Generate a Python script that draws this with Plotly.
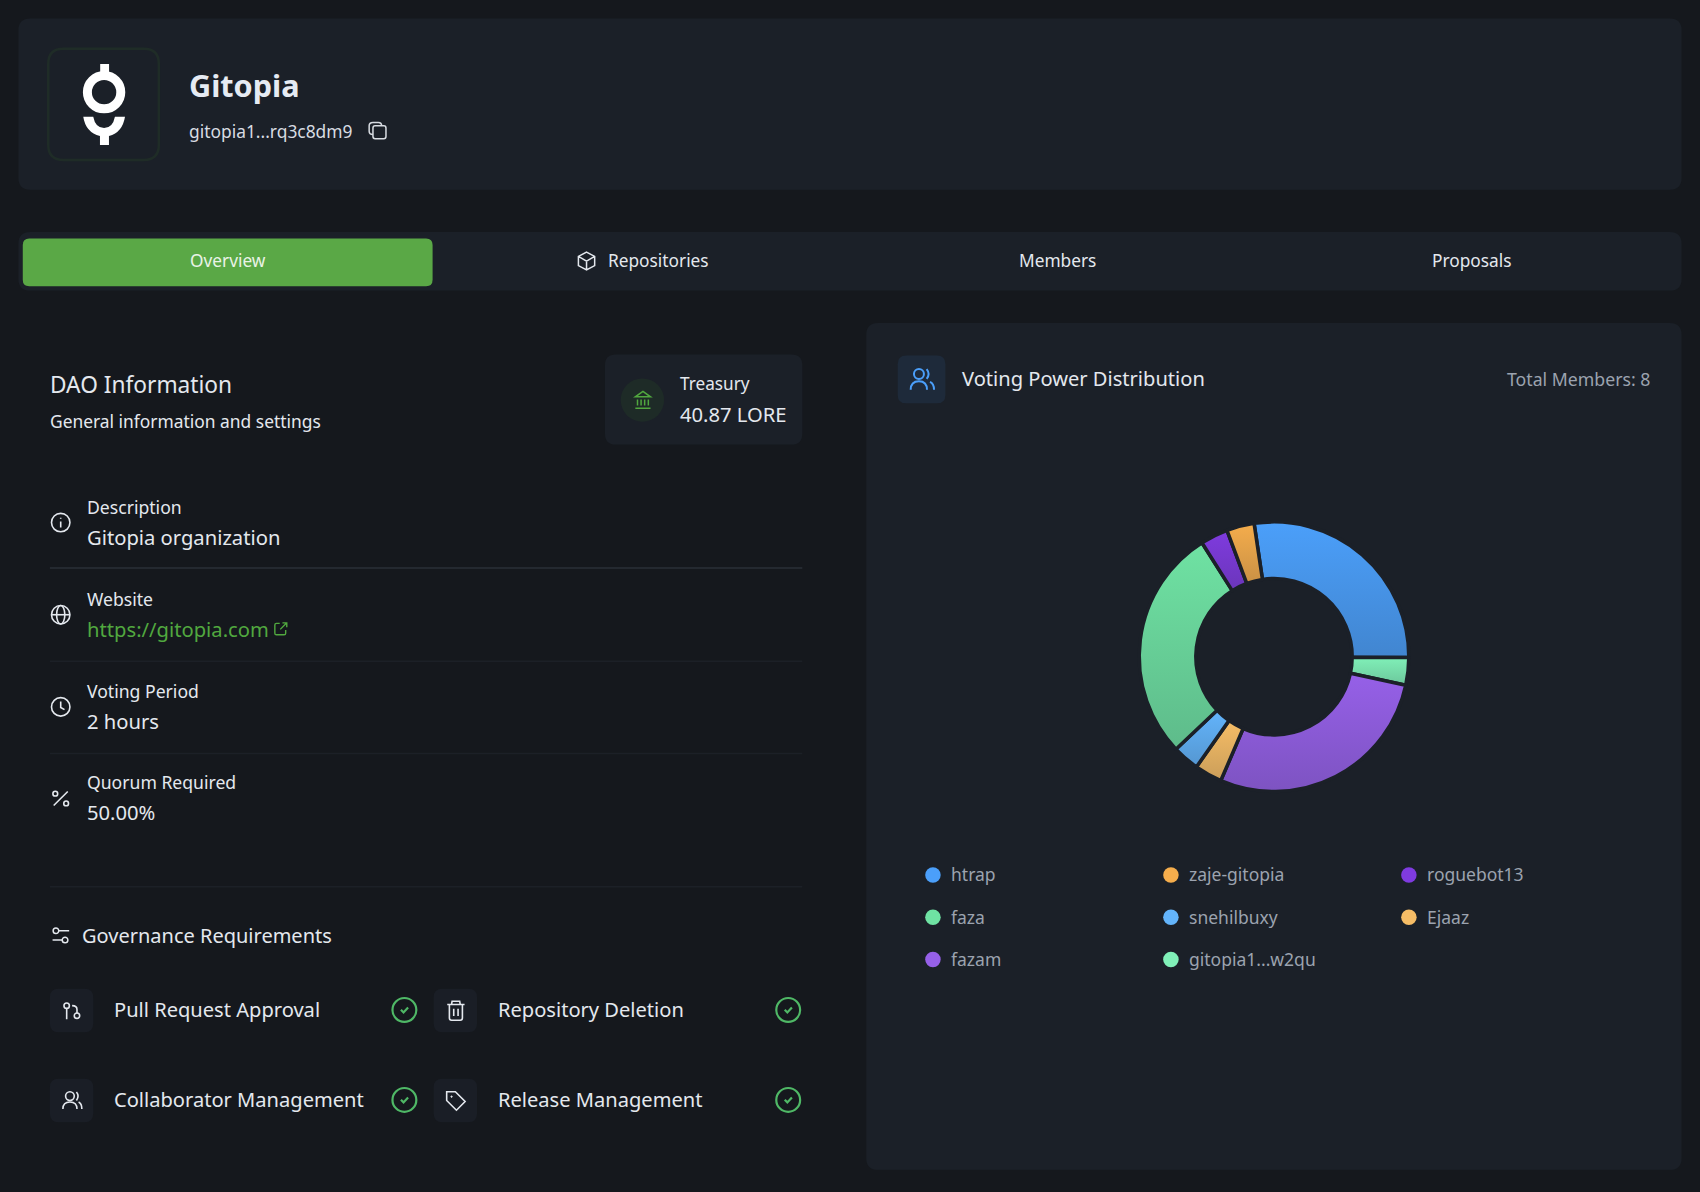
import plotly.graph_objects as go

# ---- chart data ----
voters = ["htrap", "gitopia1...w2qu", "fazam", "Ejaaz", "snehilbuxy", "faza", "roguebot13", "zaje-gitopia"]
voting_power = [27.4, 3.3, 28.0, 3.3, 3.2, 28.0, 3.3, 3.3]
voter_colors = ["#4b9ffa", "#80f0b8", "#9660e8", "#f6bd66", "#63b4fb", "#6fe2a3", "#7f3bdf", "#f5ad4c"]
legend_order = ["htrap", "faza", "fazam", "zaje-gitopia", "snehilbuxy", "gitopia1...w2qu", "roguebot13", "Ejaaz"]
tabs = ["Overview", "Repositories", "Members", "Proposals"]
info_labels = ["Description", "Website", "Voting Period", "Quorum Required"]
info_values = ["Gitopia organization", "https://gitopia.com", "2 hours", "50.00%"]
requirements = ["Pull Request Approval", "Repository Deletion", "Collaborator Management", "Release Management"]

W, H = 1700, 1192
S = W / 1568
VH = H / S
FONT = "Noto Sans"
BG, CARD = "#15181d", "#1b2028"
TXT, MUTED, GREEN = "#e4e8ee", "#9ca3af", "#51a83f"
shapes, notes = [], []


def note(x, y, t, size=18, color=TXT, anchor="left", bold=False):
    dx = {"left": -2, "right": 2, "center": 0}[anchor]
    notes.append(dict(x=x, y=y - 0.6, xshift=dx, text=f"<b>{t}</b>" if bold else t, showarrow=False, xanchor=anchor,
                      yanchor="middle", font=dict(family=FONT, size=size, color=color), xref="x", yref="y"))


def rrect(x0, y0, x1, y1, r, fill=None, line=None, w=0):
    p = (f"M{x0+r},{y0} L{x1-r},{y0} Q{x1},{y0} {x1},{y0+r} L{x1},{y1-r} Q{x1},{y1} {x1-r},{y1} "
         f"L{x0+r},{y1} Q{x0},{y1} {x0},{y1-r} L{x0},{y0+r} Q{x0},{y0} {x0+r},{y0} Z")
    shapes.append(dict(type="path", path=p, xref="x", yref="y", layer="below", fillcolor=fill or "rgba(0,0,0,0)",
                       line=dict(color=line or "rgba(0,0,0,0)", width=w)))


def circ(cx, cy, r, fill=None, line=None, w=1.6, ry=None):
    ry = r if ry is None else ry
    shapes.append(dict(type="circle", x0=cx-r, x1=cx+r, y0=cy-ry, y1=cy+ry, xref="x", yref="y", layer="below",
                       fillcolor=fill or "rgba(0,0,0,0)", line=dict(color=line or "rgba(0,0,0,0)", width=w)))


def path(p, line=TXT, w=1.6, fill=None):
    shapes.append(dict(type="path", path=p, xref="x", yref="y", layer="below", fillcolor=fill or "rgba(0,0,0,0)",
                       line=dict(color=line or "rgba(0,0,0,0)", width=w)))


def seg(x0, y0, x1, y1, color, w=1.0):
    shapes.append(dict(type="line", x0=x0, y0=y0, x1=x1, y1=y1, xref="x", yref="y", layer="below",
                       line=dict(color=color, width=w)))


# ---- cards ----
rrect(17, 17, 1551, 175, 11, CARD)
rrect(17, 214, 1551, 268, 11, CARD)
rrect(21, 220, 399, 264, 6, "#5aa846")
rrect(799, 298, 1551, 1079, 11, CARD)
rrect(558, 327, 740, 410, 10, CARD)

# ---- header ----
rrect(44.5, 45, 146.5, 147.5, 14, "#1b2028", "#1f2c27", 2.5)
circ(96, 85, 15.4, None, "#ffffff", 9)
path("M92.4,59 L100.6,59 L100.6,68 L92.4,68 Z", None, 0, "#ffffff")
path("M76.8,107.6 L86,107.6 Q88,118 96,118 Q104,118 106,107.6 L115.3,107.6 Q113,122 100.5,125.5 L100.5,133.7 "
     "L92.2,133.7 L92.2,125.5 Q79,122 76.8,107.6 Z", None, 0, "#ffffff")
note(174, 79, "Gitopia", 30.6, "#e6ebf3", bold=True)
note(174, 121, "gitopia1...rq3c8dm9", 17.4, "#d8dce2")
rrect(344, 116, 356, 128, 2, None, "#d8dce2", 1.5)
path("M344,124 Q340.5,124 340.5,121 L340.5,116 Q340.5,113 344,113 L349,113 Q352,113 352,116", "#d8dce2", 1.5)

# ---- tabs ----
note(210, 241, tabs[0], 17.3, "#e9f3e6", "center")
note(607, 241, tabs[1], 17.3, TXT, "center")
note(975, 241, tabs[2], 17.3, TXT, "center")
note(1357.5, 241, tabs[3], 17.3, TXT, "center")
path("M541,232.5 L548.5,236.5 L548.5,245 L541,249 L533.5,245 L533.5,236.5 Z M533.5,236.5 L541,240.8 L548.5,236.5 M541,240.8 L541,249",
     TXT, 1.5)

# ---- DAO information ----
note(46, 355, "DAO Information", 22.7)
note(46, 388.5, "General information and settings", 17.4)
circ(592.5, 369, 20, "#1e2b27")
path("M593,361 L600,366 L586,366 Z M586,376.5 L600,376.5 M588,368.5 L588,374 M591.3,368.5 L591.3,374 M594.6,368.5 L594.6,374 "
     "M598,368.5 L598,374", GREEN, 1.5)
note(627, 354.5, "Treasury", 17.2)
note(627, 382, "40.87 LORE", 20.2)

row_y = [482, 567, 652, 736]
for lab, val, y, c in zip(info_labels, info_values, row_y, [TXT, GREEN, TXT, TXT]):
    note(80, y - 14, lab, 17.6)
    note(80, y + 14, val, 20.2, c)
seg(46, 524, 740, 524, "#2a2f37", 1.5)
seg(46, 610, 740, 610, "#1c2027", 1.5)
seg(46, 695, 740, 695, "#1c2027", 1.5)
seg(46, 818, 740, 818, "#1c2027", 1.5)
# info
circ(56, 482, 8.5, None, TXT)
path("M56,481 L56,486.5 M56,477.5 L56,478.5", TXT, 1.6)
# globe
circ(56, 567, 8.5, None, TXT)
circ(56, 567, 3.8, None, TXT, ry=8.5)
seg(47.5, 567, 64.5, 567, TXT, 1.6)
# external link
path("M258,575 L255,575 Q253.5,575 253.5,576.5 L253.5,584 Q253.5,585.5 255,585.5 L262,585.5 Q263.5,585.5 263.5,584 L263.5,581 "
     "M258.5,580.5 L264.5,574.5 M260.5,574.5 L264.5,574.5 L264.5,578.5", GREEN, 1.4)
# clock
circ(56, 652, 8.5, None, TXT)
path("M56,647 L56,652.5 L59.5,654.5", TXT, 1.6)
# percent
seg(49.5, 743, 62.5, 730, TXT, 1.6)
circ(51, 732, 2.2, None, TXT)
circ(61, 741, 2.2, None, TXT)

# ---- governance ----
path("M54.3,858.5 L63.8,858.5 M48.5,867 L57.3,867", TXT, 1.5)
circ(51.6, 858.5, 2.6, None, TXT, 1.5)
circ(60, 867, 2.6, None, TXT, 1.5)
note(76, 863.5, "Governance Requirements", 20)

grid = [(46, 932), (400, 932), (46, 1015), (400, 1015)]
for name, (x, y) in zip(requirements, grid):
    rrect(x, y - 20, x + 40, y + 20, 8, "#1a1e26")
    note(x + 59, y, name, 20.1)
    cx = x + 327
    circ(cx, y - 0.5, 11, None, "#4fb866", 2.2)
    path(f"M{cx-3.2},{y-0.6} L{cx-0.8},{y+1.8} L{cx+3.4},{y-2.8}", "#4fb866", 2.2)
# pull request
circ(61.5, 927.6, 2.5, None, TXT)
circ(71, 936.8, 2.5, None, TXT)
path("M61.5,930 L61.5,940 M71,934.3 L71,931 Q71,927.5 66.5,927.5", TXT, 1.6)
# trash
path("M412.5,926.5 L428.5,926.5 M416.5,926.5 L417,923.5 L424,923.5 L424.5,926.5 M414.5,926.5 L414.5,939 Q414.5,941 416.5,941 "
     "L424.5,941 Q426.5,941 426.5,939 L426.5,926.5 M418.5,930.5 L418.5,937 M422.5,930.5 L422.5,937", TXT, 1.6)
# users
circ(64.5, 1011, 4, None, TXT, 1.6)
path("M58,1023 Q58,1016.5 64.5,1016.5 Q71,1016.5 71,1023 M70.5,1007.3 Q73.5,1011 70.5,1015 M72.5,1016.5 Q75.5,1018 75.5,1023", TXT, 1.6)
# tag
path("M412,1007 L420,1007 L429,1016 L421,1024 L412,1015 Z", TXT, 1.6)
circ(416.5, 1011.5, 0.6, TXT, TXT, 1)

# ---- voting panel ----
rrect(828, 328, 872, 372, 8, "#1e2a3a")
circ(847.6, 345, 4.6, None, "#4b9ffa", 2)
path("M840,359.5 Q840,351.6 847.6,351.6 Q855,351.6 855,359.5 M854.7,340.5 Q858.3,345 854.7,349.5 M857.8,352.3 Q861.5,354 861.5,359.5",
     "#4b9ffa", 2)
note(887, 350, "Voting Power Distribution", 20.1)
note(1522, 350, "Total Members: 8", 17.7, MUTED, "right")

# ---- legend ----
color_by_name = dict(zip(voters, voter_colors))
lx, ly = [860.5, 1080, 1299.5], [807, 846, 885]
leg_pos = [(lx[c], ly[r]) for c, rows in enumerate([3, 3, 2]) for r in range(rows)]
fig = go.Figure()
fig.add_trace(go.Scatter(x=[p[0] for p in leg_pos], y=[p[1] for p in leg_pos], mode="markers", showlegend=False,
                         hoverinfo="skip", marker=dict(size=15.5, color=[color_by_name[n] for n in legend_order])))
for n, (x, y) in zip(legend_order, leg_pos):
    note(x + 17, y, n, 17.5, MUTED)

# ---- donut ----
cx, cy, R = 1274.0, 656.7, 134.8
fig.add_trace(go.Pie(labels=voters, values=voting_power, sort=False, direction="clockwise", rotation=351.5, hole=0.58,
                     textinfo="none", hoverinfo="label+percent", showlegend=False,
                     marker=dict(colors=voter_colors, line=dict(color=CARD, width=3.5)),
                     domain=dict(x=[(cx-R)/W, (cx+R)/W], y=[1-(cy+R)/H, 1-(cy-R)/H])))

fig.update_layout(width=W, height=H, margin=dict(l=0, r=0, t=0, b=0), paper_bgcolor=BG, plot_bgcolor=BG,
                  showlegend=False, shapes=shapes, annotations=notes, font=dict(family=FONT),
                  xaxis=dict(range=[0, 1568], visible=False, fixedrange=True),
                  yaxis=dict(range=[VH, 0], visible=False, fixedrange=True))

gradient_js = """
document.body.style.margin = '0';
document.body.style.overflow = 'hidden';
var gd = document.getElementById('{plot_id}');
var svg = gd.querySelector('svg.main-svg');
var NS = 'http://www.w3.org/2000/svg';
var defs = svg.querySelector('defs') || svg.insertBefore(document.createElementNS(NS, 'defs'), svg.firstChild);
gd.querySelectorAll('.slice path.surface').forEach(function (p, i) {
  var col = p.style.fill;
  var g = document.createElementNS(NS, 'linearGradient');
  g.setAttribute('id', 'slicegrad' + i);
  g.setAttribute('x1', '0'); g.setAttribute('y1', '0'); g.setAttribute('x2', '0'); g.setAttribute('y2', '1');
  [[0, 1], [1, 0.8]].forEach(function (s) {
    var st = document.createElementNS(NS, 'stop');
    st.setAttribute('offset', s[0]); st.setAttribute('stop-color', col); st.setAttribute('stop-opacity', s[1]);
    g.appendChild(st);
  });
  defs.appendChild(g);
  p.style.fill = 'url(#slicegrad' + i + ')';
  p.style.fillOpacity = '1';
});
"""
fig.write_html("out.html", config=dict(displayModeBar=False), post_script=gradient_js)
